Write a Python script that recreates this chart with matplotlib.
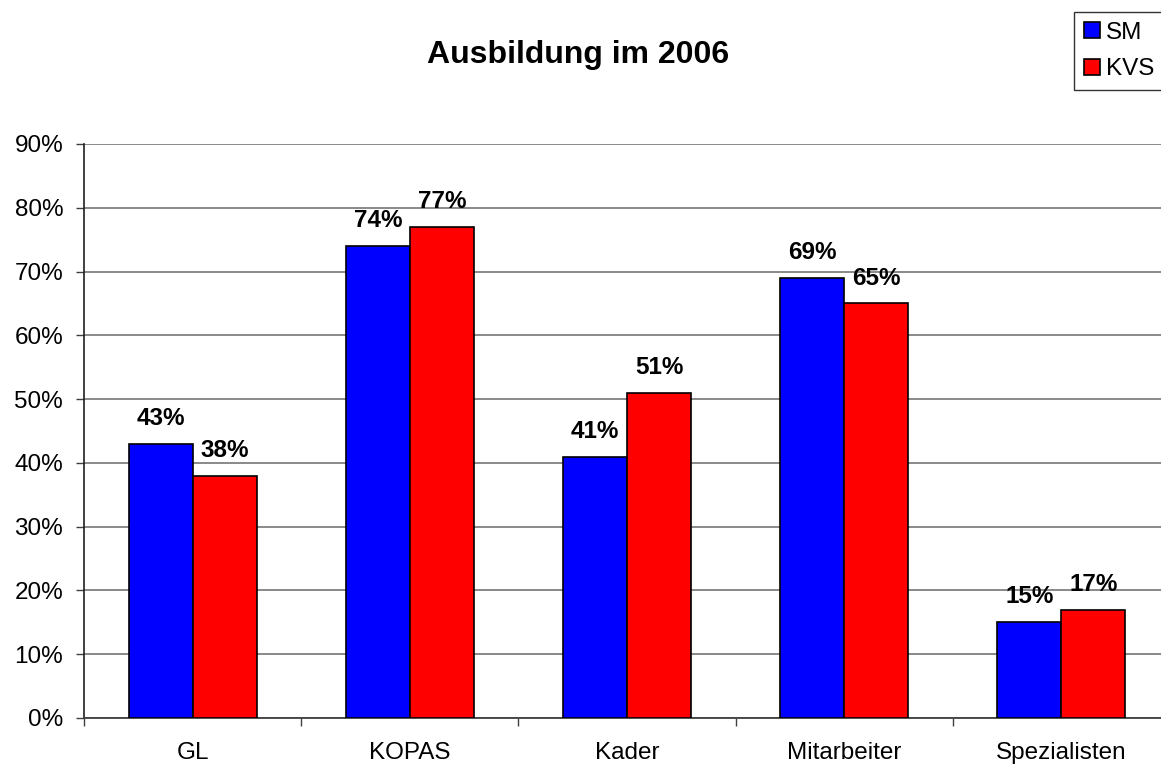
import matplotlib
matplotlib.use('Agg')
import matplotlib.pyplot as plt
from matplotlib.patches import Patch
from matplotlib.ticker import FixedLocator, FuncFormatter
import numpy as np

# Ausbildung 2006: share per Gruppe, SM vs KVS
categories = ["GL", "KOPAS", "Kader", "Mitarbeiter", "Spezialisten"]
sm_values = [43, 74, 41, 69, 15]
kvs_values = [38, 77, 51, 65, 17]
series_names = ["SM", "KVS"]

plt.rcParams['font.family'] = ['Liberation Sans', 'DejaVu Sans']

fig = plt.figure(figsize=(11.61, 7.65), dpi=100)
ax = fig.add_axes([84 / 1161, 47 / 765, 1086 / 1161, 574 / 765])

x = np.arange(len(categories))
w = 0.295
colors = ['#0000ff', '#ff0000']
for vals, off, col in [(sm_values, -w / 2, colors[0]), (kvs_values, w / 2, colors[1])]:
    bars = ax.bar(x + off, vals, width=w, color=col, edgecolor='black', linewidth=1.2, zorder=3)
    for b, v in zip(bars, vals):
        ax.annotate(f"{v}%", (b.get_x() + b.get_width() / 2, v), xytext=(0, 10),
                    textcoords='offset points', ha='center', va='bottom',
                    fontsize=17.5, fontweight='bold', zorder=4)

ax.set_xlim(-0.5, len(categories) - 0.5)
ax.set_ylim(0, 90)
ax.set_yticks(np.arange(0, 91, 10))
ax.yaxis.set_major_formatter(FuncFormatter(lambda v, p: f"{v:.0f}%"))
ax.grid(axis='y', color='#808080', linewidth=1.3, zorder=0)

# category labels at centres, tick marks at the boundaries
ax.set_xticks(x)
ax.set_xticklabels(categories)
ax.xaxis.set_minor_locator(FixedLocator(np.arange(-0.5, len(categories), 1.0)))
ax.tick_params(axis='x', which='major', length=0, pad=17, labelsize=17.5)
ax.tick_params(axis='x', which='minor', length=6, width=1, color='#404040')
ax.tick_params(axis='y', length=6, width=1, pad=9, labelsize=17.5, color='#404040')

for side in ['top', 'right']:
    ax.spines[side].set_visible(False)
ax.spines['left'].set_color('#202020')
ax.spines['left'].set_linewidth(1.2)
ax.spines['bottom'].set_color('#404040')
ax.spines['bottom'].set_linewidth(1.3)

fig.text(578 / 1161, 1 - 55 / 765, "Ausbildung im 2006", ha='center', va='center',
         fontsize=23, fontweight='bold')

handles = [Patch(facecolor=c, edgecolor='black', linewidth=1.2) for c in colors]
leg = fig.legend(handles, series_names, loc='upper left',
                 bbox_to_anchor=(1074 / 1161, 1 - 12 / 765), fontsize=17.5,
                 handlelength=0.65, handleheight=0.65, handletextpad=0.25,
                 borderpad=0.4, labelspacing=0.6, borderaxespad=0,
                 frameon=True, fancybox=False)
leg.get_frame().set_edgecolor('black')
leg.get_frame().set_linewidth(1.0)

plt.savefig("out.png", dpi=100)
plt.close()
